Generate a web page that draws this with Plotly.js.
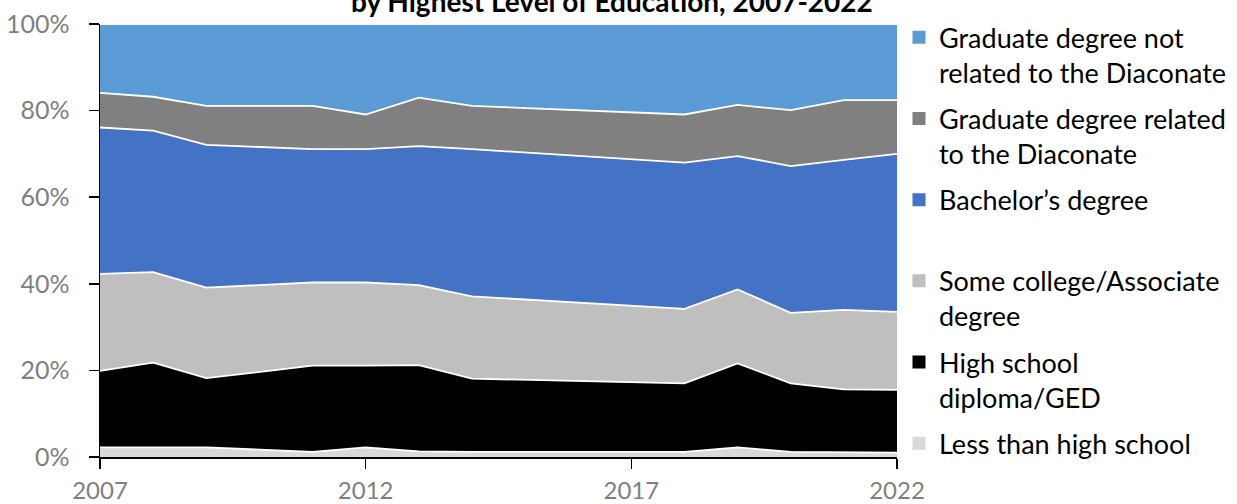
<!DOCTYPE html>
<html>
<head>
<meta charset="utf-8">
<script src="https://cdn.plot.ly/plotly-3.0.1.min.js"></script>
<style>
  html, body { margin: 0; padding: 0; background: #ffffff; }
  #chart { width: 1237px; height: 504px; }
</style>
</head>
<body>
<div id="chart"></div>
<script>
// Years with data (2010 and 2015-2017 are not present in the source)
const years = [2007, 2008, 2009, 2011, 2012, 2013, 2014, 2018, 2019, 2020, 2021, 2022];

// Share (%) by highest level of education
const lessThanHighSchool = [2.2, 2.2, 2.2, 1.2, 2.2, 1.3, 1.2, 1.2, 2.2, 1.2, 1.1, 1.0];
const highSchool        = [17.7, 19.6, 16.0, 19.9, 18.9, 19.9, 16.9, 15.8, 19.4, 15.8, 14.5, 14.5];
const someCollege       = [22.4, 20.9, 20.9, 19.2, 19.2, 18.5, 19.0, 17.2, 17.1, 16.3, 18.4, 18.0];
const bachelors         = [33.8, 32.7, 33.0, 30.8, 30.8, 32.1, 34.0, 33.8, 30.8, 33.9, 34.6, 36.5];
const gradRelated       = [8.0, 7.8, 9.0, 10.0, 8.0, 11.2, 10.0, 11.1, 11.8, 12.9, 13.8, 12.4];
const gradNotRelated    = [15.9, 16.8, 18.9, 18.9, 20.9, 17.0, 18.9, 20.9, 18.7, 19.9, 17.6, 17.6];

const xTickVals = [2007, 2012, 2017, 2022];
const chartTitle = "by Highest Level of Education, 2007-2022";

// Series bottom-to-top, with legend labels
const series = [
  { name: "Less than high school", legend: "Less than high school", y: lessThanHighSchool, color: "#D9D9D9" },
  { name: "High school diploma/GED", legend: "High school<br>diploma/GED", y: highSchool, color: "#000000" },
  { name: "Some college/Associate degree", legend: "Some college/Associate<br>degree", y: someCollege, color: "#BFBFBF" },
  { name: "Bachelor’s degree", legend: "Bachelor’s degree<br>\u00a0", y: bachelors, color: "#4472C4" },
  { name: "Graduate degree related to the Diaconate", legend: "Graduate degree related<br>to the Diaconate", y: gradRelated, color: "#808080" },
  { name: "Graduate degree not related to the Diaconate", legend: "Graduate degree not<br>related to the Diaconate", y: gradNotRelated, color: "#5B9BD5" }
];

const traces = [];
series.forEach(s => {
  traces.push({
    type: "scatter",
    mode: "lines",
    x: years,
    y: s.y,
    name: s.name,
    stackgroup: "one",
    line: { color: "#FFFFFF", width: 1.8 },
    fillcolor: s.color,
    showlegend: false,
    hoverinfo: "x+y+name"
  });
});
// Legend entries, top-to-bottom
series.slice().reverse().forEach((s, i) => {
  traces.push({
    type: "scatter",
    mode: "markers",
    x: [null],
    y: [null],
    name: s.legend,
    legendgroup: "g" + i,
    marker: { symbol: "square", size: 13, color: s.color },
    showlegend: true,
    hoverinfo: "skip"
  });
});

const tickFont = { family: "Lato, 'Open Sans', sans-serif", size: 25, color: "#7F7F7F" };

const layout = {
  width: 1237,
  height: 504,
  margin: { l: 100, r: 340, t: 24, b: 47, pad: 0, autoexpand: false },
  paper_bgcolor: "#FFFFFF",
  plot_bgcolor: "#FFFFFF",
  showlegend: true,
  legend: {
    x: 1.0025, xanchor: "left",
    y: 1.025, yanchor: "top",
    traceorder: "grouped",
    tracegroupgap: 8,
    valign: "top",
    maxheight: 500,
    font: { family: "Lato, 'Open Sans', sans-serif", size: 27, color: "#000000" },
    bgcolor: "rgba(0,0,0,0)"
  },
  xaxis: {
    range: [2007, 2022],
    tickvals: xTickVals,
    ticktext: xTickVals.map(String),
    showgrid: false,
    zeroline: false,
    showline: true,
    linecolor: "#000000",
    linewidth: 1.5,
    ticks: "outside",
    ticklen: 10,
    tickwidth: 1.5,
    tickcolor: "#000000",
    tickfont: { family: "Lato, 'Open Sans', sans-serif", size: 24, color: "#7F7F7F" },
    ticklabelstandoff: 2,
    fixedrange: true
  },
  yaxis: {
    range: [0, 100],
    dtick: 20,
    tick0: 0,
    ticksuffix: "%",
    showgrid: false,
    zeroline: false,
    showline: true,
    linecolor: "#000000",
    linewidth: 1.5,
    ticks: "outside",
    ticklen: 10,
    tickwidth: 1.5,
    tickcolor: "#000000",
    tickfont: tickFont,
    ticklabelstandoff: 14,
    fixedrange: true
  },
  annotations: [{
    text: "<b>" + chartTitle + "</b>",
    xref: "paper", yref: "paper",
    x: 0.642, y: 1.053,
    xanchor: "center", yanchor: "middle",
    showarrow: false,
    font: { family: "Lato, 'Open Sans', sans-serif", size: 28, color: "#000000" }
  }]
};

Plotly.newPlot("chart", traces, layout, { displayModeBar: false, staticPlot: true });
</script>
</body>
</html>
